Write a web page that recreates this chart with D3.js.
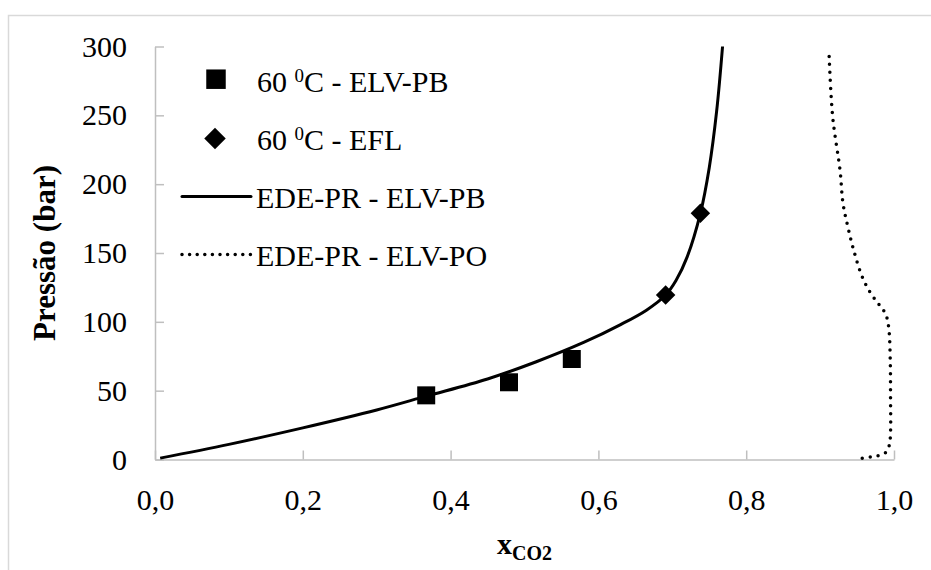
<!DOCTYPE html>
<html>
<head>
<meta charset="utf-8">
<script src="https://cdn.jsdelivr.net/npm/d3@7"></script>
<style>
  body { margin: 0; background: #fff; }
  svg { display: block; font-family: "Liberation Serif", "Times New Roman", serif; }
</style>
</head>
<body>
<svg id="chart" width="931" height="570"></svg>
<script>
// experimental points, 60 C
const elvPbX = [0.367, 0.479, 0.564];
const elvPbP = [46.6, 56.1, 73.0];
const eflX = [0.691, 0.738];
const eflP = [119.5, 178.8];

// EDE-PR model, bubble curve
const bubbleX = [0.007, 0.1, 0.2, 0.3, 0.367, 0.45, 0.516, 0.58, 0.63, 0.665, 0.691, 0.705, 0.72, 0.738, 0.75, 0.76, 0.768];
const bubbleP = [1, 11, 23, 36, 46, 58.5, 71, 85, 98, 108.5, 119.5, 130, 147, 178.8, 212, 253, 300];

// EDE-PR model, dew curve
const dewX = [0.957, 0.969, 0.980, 0.989, 0.9937, 0.9953, 0.9953, 0.995, 0.9932, 0.990, 0.9855, 0.9766, 0.966, 0.956, 0.946, 0.938, 0.931, 0.927, 0.917, 0.912];
const dewP = [0.9, 2.0, 3.0, 5.2, 10.5, 20, 45, 70, 94, 103.7, 108.6, 114.6, 123, 134, 151, 168, 186, 210, 249, 296];

const xTicks = [0, 0.2, 0.4, 0.6, 0.8, 1.0];
const yTicks = [0, 50, 100, 150, 200, 250, 300];

const legendLabels = ["60 |0|C - ELV-PB", "60 |0|C - EFL", "EDE-PR - ELV-PB", "EDE-PR - ELV-PO"];

const svg = d3.select('#chart');

// outer chart border (cut by the window on the right and bottom)
svg.append('rect')
  .attr('x', 8.5).attr('y', 15.5)
  .attr('width', 1000).attr('height', 1000)
  .attr('fill', 'none')
  .attr('stroke', '#d9d9d9')
  .attr('stroke-width', 1.5);

const x = d3.scaleLinear().domain([0, 1]).range([155, 894]);
const y = d3.scaleLinear().domain([0, 300]).range([459.5, 46.5]);

const fmtX = d => d3.format('.1f')(d).replace('.', ',');

const xAxis = svg.append('g')
  .attr('transform', 'translate(0,' + y(0) + ')')
  .call(d3.axisBottom(x).tickValues(xTicks).tickFormat(fmtX)
    .tickSize(-9).tickSizeOuter(0).tickPadding(29));

const yAxis = svg.append('g')
  .attr('transform', 'translate(' + x(0) + ',0)')
  .call(d3.axisLeft(y).tickValues(yTicks).tickFormat(d3.format('d'))
    .tickSize(-9).tickSizeOuter(0).tickPadding(28));

[xAxis, yAxis].forEach(function (g) {
  g.selectAll('path, line').attr('stroke', '#bfbfbf').attr('stroke-width', 1.5);
  g.selectAll('text')
    .attr('fill', '#000')
    .style('font-family', '"Liberation Serif", serif')
    .style('font-size', '30px');
});

// axis titles
const xt = svg.append('text')
  .attr('x', (x(0) + x(1)) / 2)
  .attr('y', 554)
  .attr('text-anchor', 'middle')
  .style('font-size', '30px')
  .style('font-weight', 'bold');
xt.append('tspan').text('x');
xt.append('tspan').attr('dy', 6).style('font-size', '20px').text('CO2');

svg.append('text')
  .attr('transform', 'translate(55,' + (y(0) + y(300)) / 2 + ') rotate(-90)')
  .attr('text-anchor', 'middle')
  .style('font-size', '31px')
  .style('font-weight', 'bold')
  .text('Pressão (bar)');

// model curves
const curveLine = d3.line()
  .x(d => x(d[0]))
  .y(d => y(d[1]))
  .curve(d3.curveCatmullRom.alpha(0.5));

svg.append('path')
  .datum(bubbleX.map((v, i) => [v, bubbleP[i]]))
  .attr('d', curveLine)
  .attr('fill', 'none')
  .attr('stroke', '#000')
  .attr('stroke-width', 3);

svg.append('path')
  .datum(dewX.map((v, i) => [v, dewP[i]]))
  .attr('d', curveLine)
  .attr('fill', 'none')
  .attr('stroke', '#000')
  .attr('stroke-width', 3.5)
  .attr('stroke-linecap', 'round')
  .attr('stroke-dasharray', '0 8');

// experimental markers
const sq = d3.symbol().type(d3.symbolSquare).size(324);
const dia = d3.symbol().type(d3.symbolSquare).size(190);

svg.append('g').selectAll('path')
  .data(elvPbX.map((v, i) => [v, elvPbP[i]]))
  .enter().append('path')
  .attr('d', sq)
  .attr('transform', d => 'translate(' + x(d[0]) + ',' + y(d[1]) + ')')
  .attr('fill', '#000');

svg.append('g').selectAll('path')
  .data(eflX.map((v, i) => [v, eflP[i]]))
  .enter().append('path')
  .attr('d', dia)
  .attr('transform', d => 'translate(' + x(d[0]) + ',' + y(d[1]) + ') rotate(45)')
  .attr('fill', '#000');

// legend
const legRows = [91.7, 149.5, 207.5, 265.5];
const leg = svg.append('g');

legendLabels.forEach(function (lab, i) {
  const cy = legRows[i] - 11;
  if (i === 0) {
    leg.append('path').attr('d', d3.symbol().type(d3.symbolSquare).size(380))
      .attr('transform', 'translate(216,' + (cy - 1.5) + ')').attr('fill', '#000');
  } else if (i === 1) {
    leg.append('path').attr('d', d3.symbol().type(d3.symbolSquare).size(230))
      .attr('transform', 'translate(215,' + cy + ') rotate(45)').attr('fill', '#000');
  } else {
    leg.append('line')
      .attr('x1', 182).attr('x2', 251)
      .attr('y1', cy).attr('y2', cy)
      .attr('stroke', '#000')
      .attr('stroke-width', i === 2 ? 3 : 3.5)
      .attr('stroke-linecap', 'round')
      .attr('stroke-dasharray', i === 2 ? null : '0 7.6');
  }
  const t = leg.append('text')
    .attr('x', i < 2 ? 257 : 256)
    .attr('y', legRows[i])
    .style('font-size', '30px');
  const parts = lab.split('|');
  if (parts.length === 3) {
    t.append('tspan').text(parts[0]);
    t.append('tspan').attr('dy', -10).style('font-size', '19px').text(parts[1]);
    t.append('tspan').attr('dy', 10).text(parts[2]);
  } else {
    t.text(lab);
  }
});
</script>
</body>
</html>
